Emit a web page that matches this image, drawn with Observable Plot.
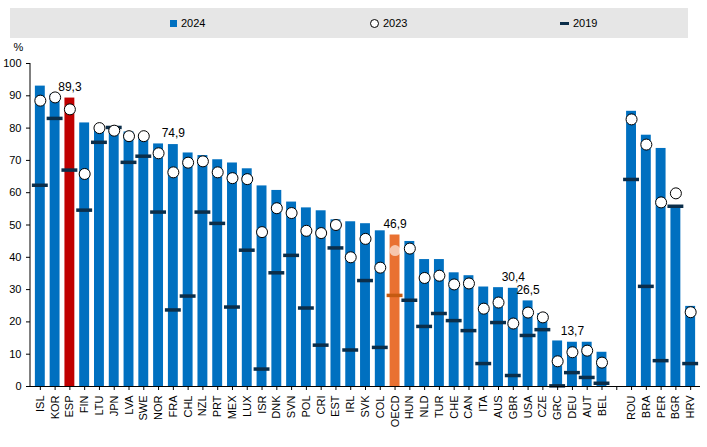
<!DOCTYPE html><html><head><meta charset="utf-8">
<script src="https://cdn.jsdelivr.net/npm/d3@7"></script>
<script src="https://cdn.jsdelivr.net/npm/@observablehq/plot@0.6"></script>
<style>body{margin:0;font-family:Arial,"Liberation Sans",sans-serif;background:#fff}
#lg{position:absolute;left:10px;top:8px;width:678px;height:30px;background:#e6e6e6;font-size:11px;display:flex;align-items:center}
#lg span{position:absolute;display:flex;align-items:center;gap:4px}
#c{position:absolute;left:0;top:40px}</style></head><body>
<div id="lg">
<span style="left:160px"><i style="display:inline-block;width:7px;height:7px;background:#0070C0"></i>2024</span>
<span style="left:360px"><i style="display:inline-block;width:7px;height:7px;border:1px solid #000;border-radius:50%;background:#fff"></i>2023</span>
<span style="left:550px"><i style="display:inline-block;width:9px;height:3px;background:#0B2E4A"></i>2019</span>
</div>
<div id="c"></div>
<script>
const countries=["ISL","KOR","ESP","FIN","LTU","JPN","LVA","SWE","NOR","FRA","CHL","NZL","PRT","MEX","LUX","ISR","DNK","SVN","POL","CRI","EST","IRL","SVK","COL","OECD","HUN","NLD","TUR","CHE","CAN","ITA","AUS","GBR","USA","CZE","GRC","DEU","AUT","BEL"," ","ROU","BRA","PER","BGR","HRV"];
const v2024=[93,90.5,89.3,81.6,80,80.3,78.8,78,75.1,74.9,72.3,71.5,70.2,69.2,67.4,62.1,60.7,57.1,55.3,54.4,51.6,51,50.4,48.2,46.9,44.9,39.3,39.3,35.2,34.3,30.8,30.6,30.4,26.5,22.6,14.1,13.7,13.7,10.6,null,85.2,77.8,73.7,56,24.8];
const v2023=[88.5,89.5,85.8,65.8,80,79.2,77.5,77.5,72.2,66.3,69.3,69.7,66.3,64.5,64.2,47.8,55.2,53.7,48.2,47.5,50,40,45.7,36.8,42.1,42.7,33.6,34.3,31.6,31.9,24.1,26,19.5,22.9,21.4,7.8,10.6,11.1,7.4,null,82.7,74.9,57,59.8,23];
const v2019=[62.3,83,67,54.6,75.6,80.2,69.4,71.3,54,23.7,28,54,50.5,24.6,42.2,5.4,35.2,40.6,24.3,12.8,42.9,11.3,32.8,12.1,28.2,26.7,18.6,22.6,20.4,17.3,7.1,19.8,3.4,15.8,17.6,0.2,4.3,2.8,1.0,null,64.1,31,8,55.8,7.1];
const labelled=["ESP","FRA","OECD","GBR","USA","DEU"];
const data=countries.map((c,i)=>({c,a:v2024[i],b:v2023[i],d:v2019[i]})).filter(d=>d.a!=null);
const fillOf=c=>c==="ESP"?"#C00000":c==="OECD"?"#E97132":"#0070C0";
const fmt=v=>String(v).replace(".",",");
const chart=Plot.plot({width:707,height:407,marginTop:23,marginLeft:30,marginRight:7,marginBottom:61,
 style:{fontFamily:"Arial, Liberation Sans, sans-serif",fontSize:"11px",color:"#000"},
 x:{domain:countries,padding:0.33,label:null,tickRotate:-90,tickSize:4},
 y:{domain:[0,100],ticks:d3.range(0,101,10),label:null,tickSize:4},
 marks:[
  Plot.barY(data,{x:"c",y:"a",fill:d=>fillOf(d.c)}),
  Plot.tickY(data,{x:"c",y:"d",stroke:d=>d.c==="OECD"?"#C55A11":"#0B2E4A",strokeWidth:3.5,insetLeft:-3,insetRight:-3}),
  Plot.dot(data,{x:"c",y:"b",r:5.5,fill:"#fff",stroke:d=>d.c==="OECD"?"none":"#000",fillOpacity:d=>d.c==="OECD"?0.6:1,strokeWidth:1}),
  Plot.text(data.filter(d=>labelled.includes(d.c)),{x:"c",y:"a",text:d=>fmt(d.a),dy:-11,fontSize:12}),
  Plot.ruleX([0],{x:()=>countries[0],dx:-10,stroke:"none"}),
  Plot.axisY({ticks:d3.range(0,101,10),tickSize:4,fontSize:11}),
  Plot.ruleY([0]),
  Plot.axisX({tickRotate:-90,tickSize:4,fontSize:11,tickFormat:d=>d.trim()}),
  Plot.text(["%"],{frameAnchor:"top-left",dx:-17,dy:-20,fontSize:11})
 ]});
document.getElementById("c").appendChild(chart);
d3.select(chart).append("line").attr("x1",30).attr("x2",30).attr("y1",23).attr("y2",346).attr("stroke","#000");
</script></body></html>
